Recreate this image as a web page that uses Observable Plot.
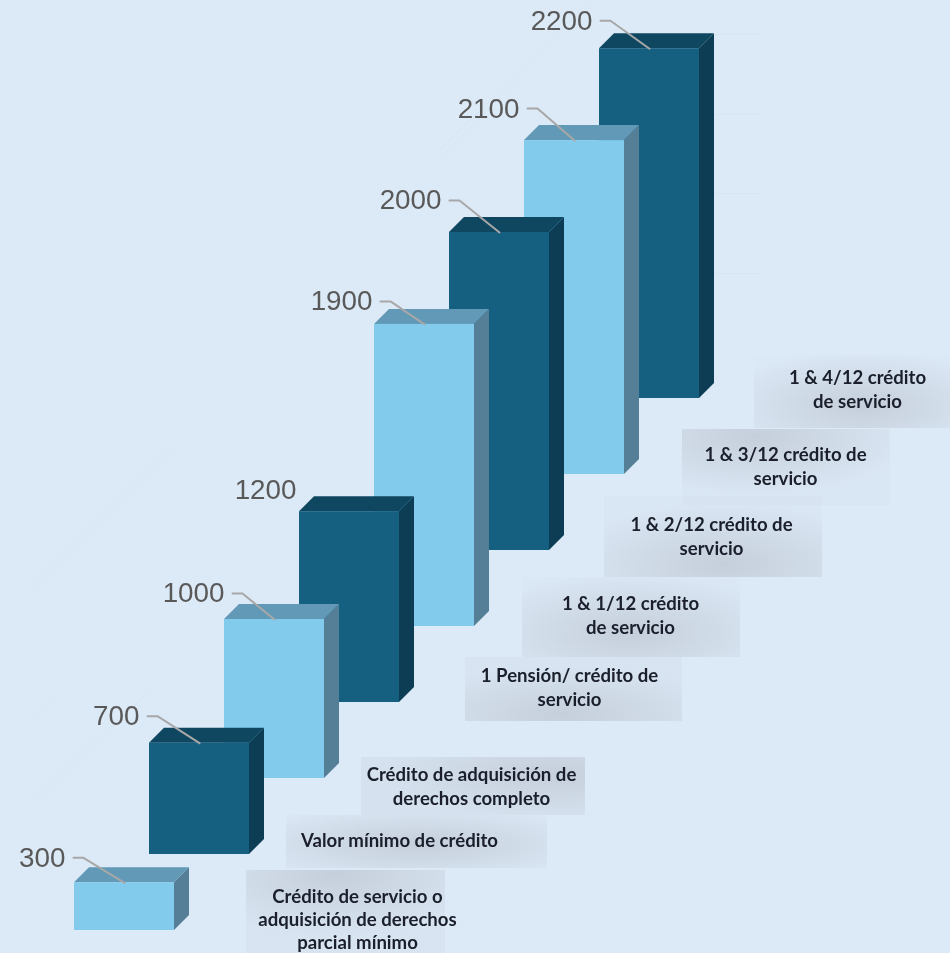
<!DOCTYPE html>
<html lang="es">
<head>
<meta charset="utf-8">
<script src="https://cdn.jsdelivr.net/npm/d3@7"></script>
<script src="https://cdn.jsdelivr.net/npm/@observablehq/plot@0.6"></script>
<style>
  html, body { margin: 0; padding: 0; background: #DCE9F6; overflow: hidden; }
  svg { display: block; filter: blur(0.45px); }
</style>
</head>
<body>
<div id="chart"></div>
<script>
// Data
const credits = [300, 700, 1000, 1200, 1900, 2000, 2100, 2200];
const captions = [
  "Crédito de servicio o\nadquisición de derechos\nparcial mínimo",
  "Valor mínimo de crédito",
  "Crédito de adquisición de\nderechos completo",
  "1 Pensión/ crédito de\nservicio",
  "1 & 1/12 crédito\nde servicio",
  "1 & 2/12 crédito de\nservicio",
  "1 & 3/12 crédito de\nservicio",
  "1 & 4/12 crédito\nde servicio"
];

// Scale geometry
const W = 950, H = 953;
const pxPerStep = 75, pxPerCredit = 0.159;
const originX = 74, originY = 930;
const barW = 100 / pxPerStep;
const rise = 76 / pxPerCredit;
const depthX = 15 / pxPerStep, depthY = 15 / pxPerCredit;
const toX = px => px / pxPerStep;
const toY = px => px / pxPerCredit;

// Styling per bar
const palette = {
  light: {front: "#82CBEC", top: "#6199B6", side: "#547F97"},
  dark: {front: "#155F80", top: "#0F4760", side: "#0C3D54"}
};
const shade = i => palette[i % 2 ? "dark" : "light"];

// Label layout, pixels relative to each bar's top-left corner
const labelGap = [-9, -10, 0, -3, -2, -8, -5, -7];
const labelLift = [25, 27, 26, 22, 23, 32, 32, 28];
const hasLeader = [1, 1, 1, 0, 1, 1, 1, 1];

// Caption layout, pixels relative to each bar's bottom-right corner
const capDx = [183, 150, 147, 170, 156, 162, 161, 158];
const capDy = [-12, -15, 7, -16, -12, -15, -9, -10];
const boxL = [-111, -113, -110, -104, -108, -107, -103, -103];
const boxR = [88, 148, 114, 113, 110, 111, 105, 93];
const boxT = [-48, -24, -28, -29, -37, -39, -36, -33];
const boxB = [35, 29, 30, 35, 43, 42, 40, 40];
const glowX = [0.45, 0.5, 0.85, 0.45, 0.5, 0.55, 0.35, 0.55];
const glowY = [0.05, 0.55, 0.3, 0.9, 0.7, 0.85, 0.1, 0.7];
const glowEdge = [0.2, 0.05, 0.3, 0.2, 0.08, 0.12, 0.12, 0.05];

const index = d3.range(credits.length);
const base = i => i * rise;
const capX = i => i + barW + toX(capDx[i]);
const capY = i => base(i) - toY(capDy[i]);

// Faint wall grid of the original 3-D chart
const wallRows = [34, 114, 193, 273].map(px => toY(originY - px));
const wallDiagonals = [
  [[30, 723], [57, 696]],
  [[33, 800], [150, 690]],
  [[30, 590], [170, 450]],
  [[440, 150], [590, 0]],
  [[440, 157], [522, 75]]
];

const gradients = () => {
  const defs = d3.create("svg:defs");
  index.forEach(i => {
    const g = defs.append("radialGradient")
      .attr("id", `glow${i}`)
      .attr("cx", glowX[i]).attr("cy", glowY[i]).attr("r", 0.75);
    g.append("stop").attr("offset", 0).attr("stop-color", "#C5CFDB").attr("stop-opacity", 1);
    g.append("stop").attr("offset", 1).attr("stop-color", "#C5CFDB").attr("stop-opacity", glowEdge[i]);
  });
  return defs.node();
};

const captionBoxes = index.map(i => Plot.rect([i], {
  x1: d => capX(d) + toX(boxL[d]),
  x2: d => capX(d) + toX(boxR[d]),
  y1: d => capY(d) - toY(boxB[d]),
  y2: d => capY(d) - toY(boxT[d]),
  fill: `url(#glow${i})`
}));

const wall = [
  Plot.ruleY(wallRows, {x1: toX(713 - originX), x2: toX(760 - originX), stroke: "#D8E5F2", strokeWidth: 1}),
  ...wallDiagonals.map(seg => Plot.line(seg, {
    x: d => toX(d[0] - originX),
    y: d => toY(originY - d[1]),
    stroke: "#D8E5F2",
    strokeWidth: 1
  }))
];

// Back bars first so nearer bars overlap them
const bars = index.slice().reverse().flatMap(i => {
  const b = base(i), v = credits[i], c = shade(i);
  const side = [
    {x: i + barW, y1: b, y2: b + v},
    {x: i + barW + depthX, y1: b + depthY, y2: b + v + depthY}
  ];
  const top = [
    {x: i, y1: b + v, y2: b + v},
    {x: i + depthX, y1: b + v, y2: b + v + depthY},
    {x: i + barW, y1: b + v, y2: b + v + depthY},
    {x: i + barW + depthX, y1: b + v + depthY, y2: b + v + depthY}
  ];
  return [
    Plot.areaY(side, {x: "x", y1: "y1", y2: "y2", fill: c.side}),
    Plot.areaY(top, {x: "x", y1: "y1", y2: "y2", fill: c.top}),
    Plot.rect([i], {x1: i, x2: i + barW, y1: b, y2: b + v, fill: c.front})
  ];
});

const leaders = index.filter(i => hasLeader[i]).map(i => {
  const topY = base(i) + credits[i];
  return Plot.line([
    {x: i + toX(labelGap[i] + 8), y: topY + toY(labelLift[i])},
    {x: i + toX(labelGap[i] + 18), y: topY + toY(labelLift[i])},
    {x: i + barW / 2, y: topY}
  ], {x: "x", y: "y", stroke: "#A8A8A8", strokeWidth: 2, curve: "linear"});
});

const valueLabels = Plot.text(index, {
  x: i => i + toX(labelGap[i]),
  y: i => base(i) + credits[i] + toY(labelLift[i]),
  text: i => String(credits[i]),
  textAnchor: "end",
  fontFamily: "Liberation Sans",
  fontSize: 27.8,
  fill: "#595959"
});

const captionText = Plot.text(index, {
  x: capX,
  y: capY,
  text: i => captions[i],
  textAnchor: "middle",
  lineHeight: 1.26,
  fontFamily: "Lato",
  fontWeight: 700,
  fontSize: 18.6,
  fill: "#1A1F2B"
});

const chart = Plot.plot({
  width: W,
  height: H,
  margin: 0,
  style: {background: "#DCE9F6"},
  x: {axis: null, domain: [-toX(originX), toX(W - originX)], range: [0, W]},
  y: {axis: null, domain: [toY(originY - H), toY(originY)], range: [H, 0]},
  marks: [gradients, ...wall, ...captionBoxes, ...bars, ...leaders, valueLabels, captionText]
});
document.getElementById("chart").append(chart);
</script>
</body>
</html>
